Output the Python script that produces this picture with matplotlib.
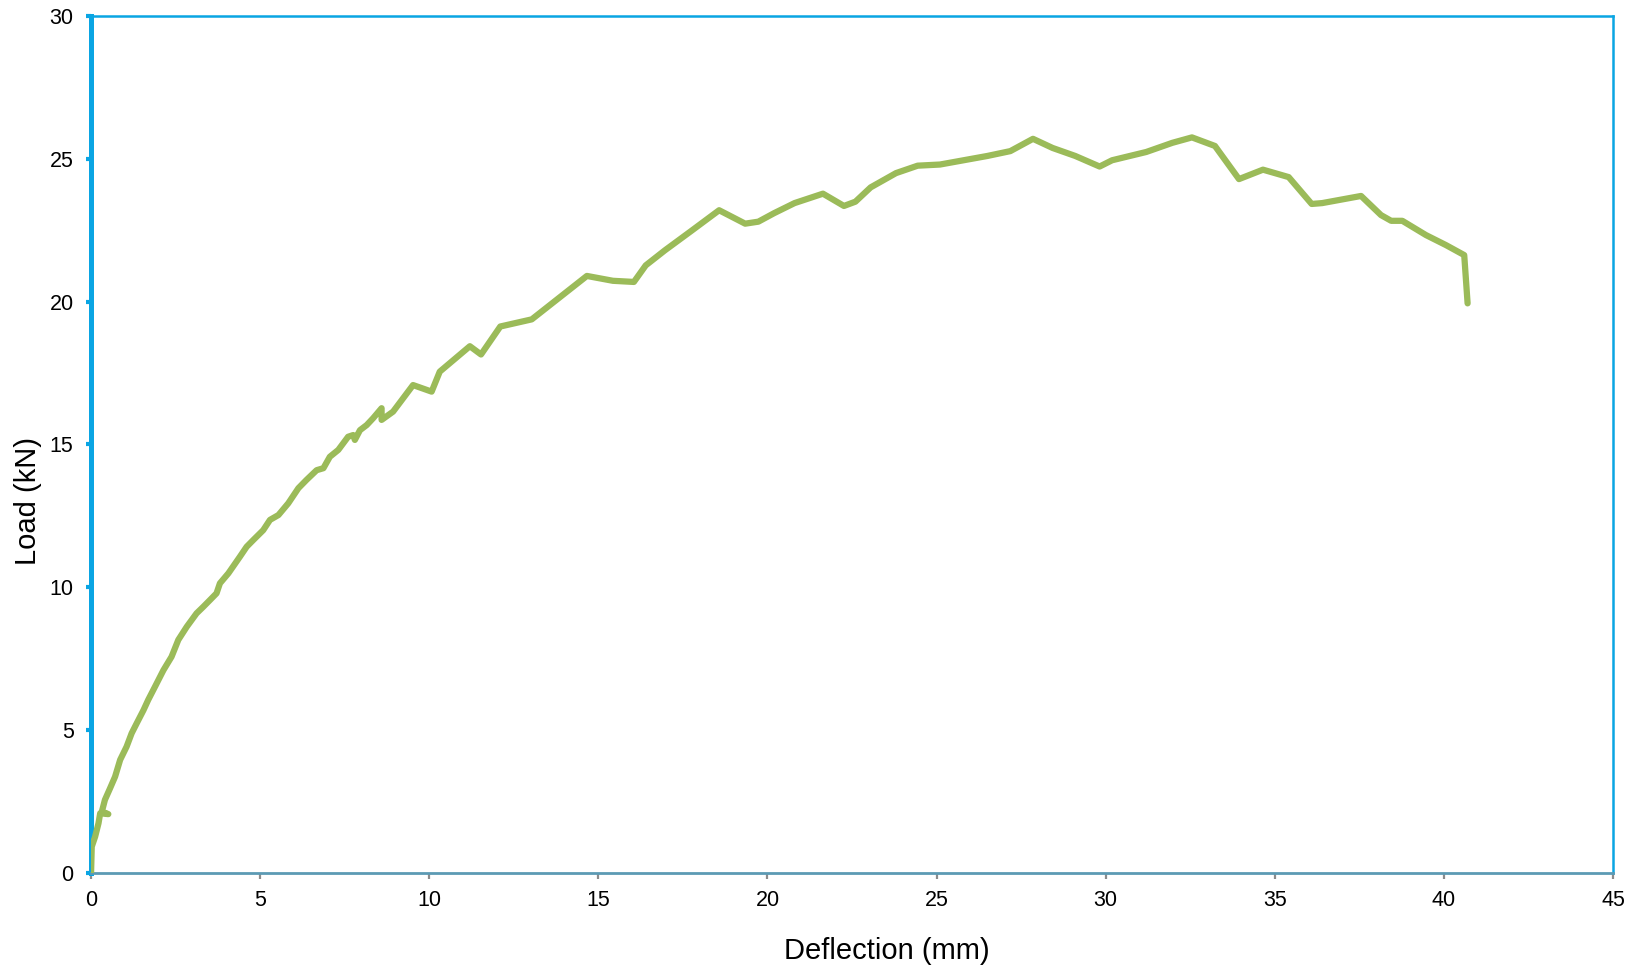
import matplotlib
matplotlib.use("Agg")
import matplotlib.pyplot as plt

deflection = [0, 0.02, 0.12, 0.22, 0.27, 0.51, 0.32, 0.41, 0.56, 0.71,
              0.86, 1.05, 1.2, 1.35, 1.55, 1.69, 1.89, 2.14, 2.38, 2.58,
              2.83, 3.12, 3.32, 3.52, 3.71, 3.81, 4.06, 4.4, 4.6, 4.8,
              5.09, 5.29, 5.54, 5.83, 6.13, 6.37, 6.67, 6.87, 7.06, 7.31,
              7.6, 7.75, 7.8, 7.95, 8.15, 8.34, 8.59, 8.59, 8.93, 9.52,
              10.07, 10.31, 11.2, 11.53, 12.1, 13.03, 14.66, 15.43, 16.05, 16.4,
              16.97, 17.74, 18.57, 19.34, 19.73, 20.2, 20.8, 21.64, 22.26, 22.6,
              23.05, 23.8, 24.44, 25.1, 26.5, 27.18, 27.85, 28.43, 29.1, 29.82,
              30.19, 31.2, 31.97, 32.55, 33.23, 33.94, 34.65, 35.41, 36.09, 36.4,
              37.55, 38.14, 38.44, 38.77, 39.47, 40.06, 40.6, 40.7]
load = [0, 0.92, 1.27, 1.74, 2.09, 2.06, 2.15, 2.56, 2.96, 3.37,
        3.96, 4.42, 4.89, 5.24, 5.7, 6.06, 6.52, 7.1, 7.57, 8.16,
        8.62, 9.09, 9.32, 9.56, 9.79, 10.14, 10.49, 11.07, 11.42, 11.66,
        12.0, 12.36, 12.53, 12.94, 13.47, 13.76, 14.1, 14.17, 14.57, 14.81,
        15.27, 15.33, 15.16, 15.5, 15.68, 15.92, 16.27, 15.86, 16.15, 17.08,
        16.85, 17.55, 18.44, 18.15, 19.13, 19.38, 20.9, 20.73, 20.69, 21.27,
        21.8, 22.47, 23.2, 22.73, 22.8, 23.1, 23.45, 23.78, 23.35, 23.5,
        24.0, 24.5, 24.76, 24.8, 25.1, 25.27, 25.7, 25.38, 25.1, 24.73,
        24.95, 25.24, 25.56, 25.75, 25.45, 24.29, 24.62, 24.36, 23.42, 23.45,
        23.7, 23.03, 22.83, 22.83, 22.33, 21.98, 21.63, 19.94]

x_ticks = [0, 5, 10, 15, 20, 25, 30, 35, 40, 45]
y_ticks = [0, 5, 10, 15, 20, 25, 30]

plt.rcParams['font.family'] = ['Liberation Sans', 'DejaVu Sans']

fig = plt.figure(figsize=(16.29, 9.69), dpi=100)
ax = fig.add_axes([0.0559, 0.0991, 0.9343, 0.8844])

ax.plot(deflection, load, color='#9BBB59', lw=4.5,
        solid_joinstyle='round', solid_capstyle='round', zorder=3)

ax.set_xlim(0, 45)
ax.set_ylim(0, 30)
ax.set_xticks(x_ticks)
ax.set_yticks(y_ticks)

blue = '#0AA5E3'
ax.spines['left'].set_color(blue)
ax.spines['left'].set_linewidth(3.6)
ax.spines['top'].set_color(blue)
ax.spines['top'].set_linewidth(1.8)
ax.spines['right'].set_color(blue)
ax.spines['right'].set_linewidth(1.8)
ax.spines['bottom'].set_color('#5C9AB4')
ax.spines['bottom'].set_linewidth(2.0)

ax.tick_params(axis='x', direction='out', length=4.5, width=1.6,
               color='#8C8C8C', labelsize=15.5, pad=8)
ax.tick_params(axis='y', direction='out', length=3.6, width=3,
               color=blue, labelsize=15.5, pad=9)

ax.set_xlabel('Deflection (mm)', fontsize=21)
ax.set_ylabel('Load (kN)', fontsize=21)
ax.xaxis.set_label_coords(0.523, -0.0747)
ax.yaxis.set_label_coords(-0.032, 0.434)

fig.savefig('out.png', dpi=100)
